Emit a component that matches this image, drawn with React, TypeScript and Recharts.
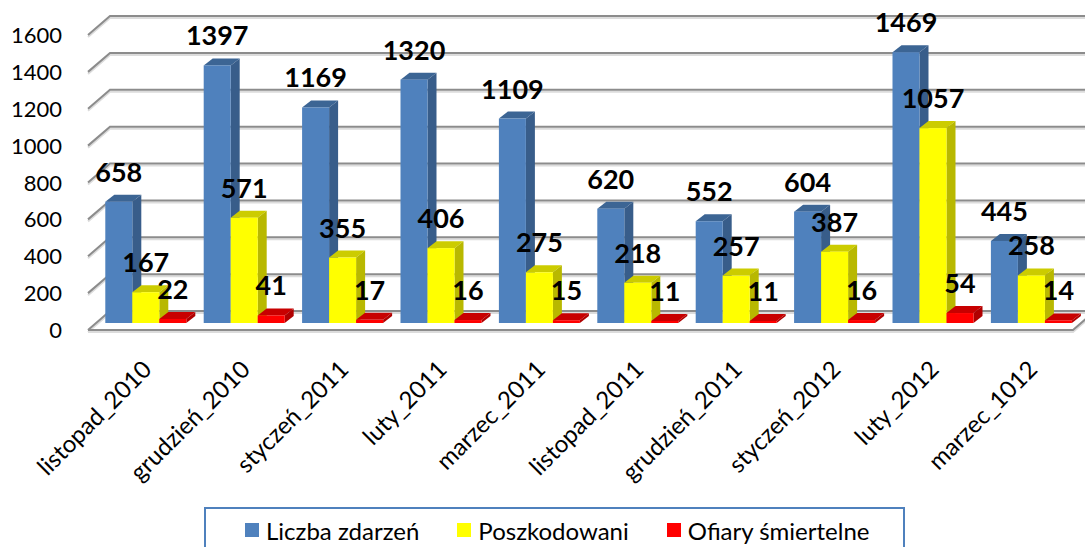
import React from 'react';
import { BarChart, Bar, XAxis, YAxis, CartesianGrid, LabelList, Legend, ReferenceLine } from 'recharts';

const categories = [
  'listopad_2010', 'grudzień_2010', 'styczeń_2011', 'luty_2011', 'marzec_2011',
  'listopad_2011', 'grudzień_2011', 'styczeń_2012', 'luty_2012', 'marzec_1012',
];
const liczbaZdarzen = [658, 1397, 1169, 1320, 1109, 620, 552, 604, 1469, 445];
const poszkodowani = [167, 571, 355, 406, 275, 218, 257, 387, 1057, 258];
const ofiarySmiertelne = [22, 41, 17, 16, 15, 11, 11, 16, 54, 14];
const yTicks = [0, 200, 400, 600, 800, 1000, 1200, 1400, 1600];
const seriesNames = ['Liczba zdarzeń', 'Poszkodowani', 'Ofiary śmiertelne'];

const data = categories.map((name, i) => ({
  name,
  zdarzenia: liczbaZdarzen[i],
  poszkodowani: poszkodowani[i],
  ofiary: ofiarySmiertelne[i],
}));

const FONT = 'Lato, "Open Sans", sans-serif';
const DX = 9;
const DY = 7;

const COLORS = {
  blue: { front: '#4f81bd', side: '#385d8a', top: '#3c6594' },
  yellow: { front: '#ffff00', side: '#b8b800', top: '#cccc00' },
  red: { front: '#ff0000', side: '#b00000', top: '#c80000' },
};

const makeShape = (c: { front: string; side: string; top: string }) => (props: any) => {
  const { x, y, width, height } = props;
  if (x == null || y == null) return <g />;
  const h = Math.max(height || 0, 0);
  const w = width;
  return (
    <g>
      <rect x={x} y={y + h} width={w} height={2} fill="#c9d9ee" />
      <polygon points={`${x},${y} ${x + DX},${y - DY} ${x + w + DX},${y - DY} ${x + w},${y}`} fill={c.top} />
      <polygon points={`${x + w},${y} ${x + w + DX},${y - DY} ${x + w + DX},${y + h - DY} ${x + w},${y + h}`} fill={c.side} />
      <rect x={x} y={y} width={w} height={h} fill={c.front} />
    </g>
  );
};

const GridLine = (p: any) => {
  const { x1, x2, y1 } = p;
  const yf = y1 + 7;
  const yb = y1 - 12;
  const pts = `${x1 - 8},${yf} ${x1 + 14},${yb} ${x2 + 10},${yb}`;
  const pts2 = `${x1 - 8},${yf + 2} ${x1 + 14},${yb + 2} ${x2 + 10},${yb + 2}`;
  return (
    <g key={p.key}>
      <polyline points={pts2} stroke="#dcdcdc" strokeWidth={2} fill="none" />
      <polyline points={pts} stroke="#8c8c8c" strokeWidth={2} fill="none" />
    </g>
  );
};

const FloorShape = (p: any) => {
  const { x1, x2, y1 } = p;
  const yf = y1 + 7;
  const yb = y1 - 12;
  const pts = `${x1 - 8},${yf} ${x2 - 7},${yf} ${x2 + 15},${yb}`;
  const pts2 = `${x1 - 8},${yf + 2} ${x2 - 7},${yf + 2} ${x2 + 15},${yb + 2}`;
  return (
    <g>
      <polyline points={pts2} stroke="#dcdcdc" strokeWidth={2} fill="none" />
      <polyline points={pts} stroke="#8c8c8c" strokeWidth={2} fill="none" />
    </g>
  );
};

const YTick = (props: any) => {
  const { x, y, payload } = props;
  return (
    <text x={x} y={y + 15} textAnchor="end" fontFamily={FONT} fontSize={22} fill="#000">
      {payload.value}
    </text>
  );
};

const XTick = (props: any) => {
  const { x, y, payload } = props;
  const tx = x + 8;
  const ty = y + 48;
  return (
    <text x={tx} y={ty} transform={`rotate(-45, ${tx}, ${ty})`} textAnchor="end" fontFamily={FONT} fontSize={24} fill="#000">
      {payload.value}
    </text>
  );
};

const renderValueLabel = (props: any) => {
  const vb = props.viewBox || {};
  const x = props.x ?? vb.x;
  const y = props.y ?? vb.y;
  const width = props.width ?? vb.width;
  return (
    <text x={x + width / 2} y={y - 20} textAnchor="middle" fontFamily={FONT} fontWeight="bold" fontSize={27} fill="#000">
      {props.value}
    </text>
  );
};

const renderLegend = (props: any) => {
  const payload = [...(props.payload || [])].sort(
    (a: any, b: any) => seriesNames.indexOf(a.value) - seriesNames.indexOf(b.value),
  );
  return (
    <div
      style={{
        width: 701,
        height: 46,
        boxSizing: 'border-box',
        border: '2px solid #4f81bd',
        background: '#fff',
        display: 'flex',
        alignItems: 'center',
        justifyContent: 'flex-start',
        paddingLeft: 39,
        gap: 38,
        fontFamily: FONT,
        fontSize: 24,
        color: '#000',
      }}
    >
      {payload.map((it: any, i: number) => (
        <span key={i} style={{ display: 'flex', alignItems: 'center', whiteSpace: 'nowrap' }}>
          <span style={{ display: 'inline-block', width: 14, height: 14, background: it.color, marginRight: 7 }} />
          {it.value}
        </span>
      ))}
    </div>
  );
};

export default function App() {
  return (
    <div style={{ position: 'absolute', left: 0, top: 0, width: 1085, height: 547, background: '#fff', overflow: 'hidden' }}>
      <BarChart
        width={1085}
        height={547}
        data={data}
        margin={{ top: 28, right: 5, bottom: 0, left: 0 }}
        barCategoryGap="9.45%"
        barGap={0}
      >
        <CartesianGrid horizontal={GridLine as any} vertical={false} />
        <XAxis
          dataKey="name"
          interval={0}
          height={178}
          tickLine={false}
          axisLine={false}
          tickSize={0}
          tickMargin={0}
          tick={<XTick />}
        />
        <YAxis
          domain={[0, 1600]}
          ticks={yTicks}
          width={96}
          tickLine={false}
          axisLine={false}
          tickSize={6}
          tickMargin={28}
          tick={<YTick />}
          allowDataOverflow
        />
        <ReferenceLine y={0} shape={FloorShape as any} ifOverflow="visible" />
        <Bar dataKey="zdarzenia" name={seriesNames[0]} fill={COLORS.blue.front} shape={makeShape(COLORS.blue)} isAnimationActive={false}>
          <LabelList dataKey="zdarzenia" content={renderValueLabel} />
        </Bar>
        <Bar dataKey="poszkodowani" name={seriesNames[1]} fill={COLORS.yellow.front} shape={makeShape(COLORS.yellow)} isAnimationActive={false}>
          <LabelList dataKey="poszkodowani" content={renderValueLabel} />
        </Bar>
        <Bar dataKey="ofiary" name={seriesNames[2]} fill={COLORS.red.front} shape={makeShape(COLORS.red)} isAnimationActive={false}>
          <LabelList dataKey="ofiary" content={renderValueLabel} />
        </Bar>
        <Legend
          verticalAlign="bottom"
          content={renderLegend}
          wrapperStyle={{ left: 204, top: 507, bottom: 'auto', width: 701, height: 46 }}
        />
      </BarChart>
    </div>
  );
}
